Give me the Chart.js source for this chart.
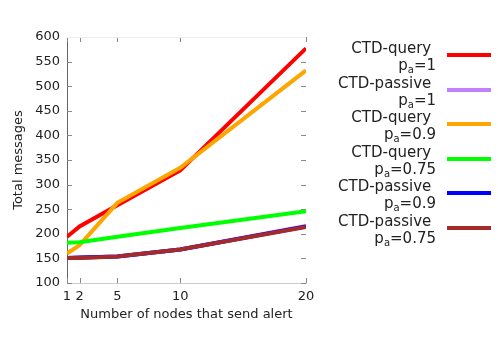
<!DOCTYPE html>
<html>
<head>
<meta charset="utf-8">
<script src="https://cdn.jsdelivr.net/npm/chart.js@4"></script>
<style>
  html, body { margin: 0; padding: 0; background: #fff; }
  #wrap { position: relative; width: 498px; height: 352px; }
  canvas { position: absolute; left: 0; top: 0; }
  .lg { position: absolute; right: 62px; text-align: right; font: 15px "DejaVu Sans", sans-serif; color: #222; line-height: 17px; white-space: nowrap; }
  .lg sub { font-size: 10px; vertical-align: -3px; line-height: 0; }
  .sw { position: absolute; left: 447px; width: 44px; height: 4px; }
</style>
</head>
<body>
<div id="wrap">
  <canvas id="c" width="498" height="352"></canvas>
  <div id="legend"></div>
</div>
<script>
// number of nodes that send an alert
const nodes = [1, 2, 5, 10, 20];
const xTicks = [1, 2, 5, 10, 20];
const yTicks = [100, 150, 200, 250, 300, 350, 400, 450, 500, 550, 600];

// total messages per series
const queryP1 = [194, 215, 258, 329, 577];
const passiveP1 = [151, 152, 154, 168, 216];
const queryP09 = [160, 177, 263, 334, 532];
const queryP075 = [182, 183, 194, 212, 246];
const passiveP09 = [151, 152, 154, 168, 215];
const passiveP075 = [151, 151, 154, 168, 214];

const series = [
    { name: 'CTD-query', pa: '1', data: queryP1, color: '#ff0000' },
    { name: 'CTD-passive', pa: '1', data: passiveP1, color: '#c080ff' },
    { name: 'CTD-query', pa: '0.9', data: queryP09, color: '#ffa500' },
    { name: 'CTD-query', pa: '0.75', data: queryP075, color: '#00ff00' },
    { name: 'CTD-passive', pa: '0.9', data: passiveP09, color: '#0000ff' },
    { name: 'CTD-passive', pa: '0.75', data: passiveP075, color: '#a52a2a' }
];

// legend as html text, right aligned like gnuplot
const legend = document.getElementById('legend');
series.forEach((s, i) => {
    const y = 55 + i * 34.5;
    const t = document.createElement('div');
    t.className = 'lg';
    t.style.top = (y - 15) + 'px';
    t.innerHTML = s.name + '&nbsp;<br>p<sub>a</sub>=' + s.pa;
    legend.appendChild(t);
    const sw = document.createElement('div');
    sw.className = 'sw';
    sw.style.top = (y - 2) + 'px';
    sw.style.background = s.color;
    legend.appendChild(sw);
});

// inward tick marks on all four sides
const tickMarks = {
    id: 'tickMarks',
    beforeDatasetsDraw(chart) {
        const { ctx, chartArea: a, scales: { x, y } } = chart;
        ctx.save();
        ctx.lineWidth = 1;
        ctx.strokeStyle = '#888';
        yTicks.forEach(v => {
            const py = Math.round(y.getPixelForValue(v)) + 0.5;
            ctx.beginPath();
            ctx.moveTo(a.left, py); ctx.lineTo(a.left + 5, py);
            ctx.moveTo(a.right, py); ctx.lineTo(a.right - 5, py);
            ctx.stroke();
        });
        xTicks.forEach(v => {
            const px = Math.round(x.getPixelForValue(v)) + 0.5;
            ctx.beginPath();
            ctx.moveTo(px, a.bottom); ctx.lineTo(px, a.bottom - 5);
            ctx.moveTo(px, a.top); ctx.lineTo(px, a.top + 5);
            ctx.stroke();
        });
        // faint top border
        ctx.strokeStyle = '#eee';
        ctx.beginPath();
        ctx.moveTo(a.left, a.top + 0.5); ctx.lineTo(a.right, a.top + 0.5);
        ctx.stroke();
        ctx.restore();
    }
};

const tickFont = { family: '"DejaVu Sans", sans-serif', size: 13 };

new Chart(document.getElementById('c'), {
    type: 'line',
    data: {
        labels: nodes,
        datasets: series.map((s, i) => ({
            label: s.name + ' pa=' + s.pa,
            data: s.data.map((v, j) => ({ x: nodes[j], y: v })),
            borderColor: s.color,
            backgroundColor: s.color,
            borderWidth: 4,
            pointRadius: 0,
            tension: 0,
            fill: false,
            order: series.length - i
        }))
    },
    options: {
        responsive: false,
        animation: false,
        layout: { padding: { left: 0, top: 37, right: 192, bottom: 0 } },
        plugins: { legend: { display: false }, tooltip: { enabled: false } },
        scales: {
            x: {
                type: 'linear',
                min: 1,
                max: 20,
                afterBuildTicks: scale => { scale.ticks = xTicks.map(v => ({ value: v })); },
                afterFit: scale => { scale.height = 69; },
                grid: { display: false, drawTicks: false },
                border: { display: true, color: '#ccc', width: 1 },
                ticks: { color: '#222', font: tickFont, padding: 6, maxRotation: 0, autoSkip: false },
                title: {
                    display: true,
                    text: 'Number of nodes that send alert',
                    color: '#222',
                    font: tickFont,
                    padding: { top: 0, bottom: 30 }
                }
            },
            y: {
                min: 100,
                max: 600,
                afterBuildTicks: scale => { scale.ticks = yTicks.map(v => ({ value: v })); },
                afterFit: scale => { scale.width = 67; },
                grid: { display: false, drawTicks: false },
                border: { display: true, color: '#666', width: 1 },
                ticks: { color: '#222', font: tickFont, padding: 7 },
                title: {
                    display: true,
                    text: 'Total messages',
                    color: '#222',
                    font: tickFont,
                    padding: { top: 11, bottom: 0 }
                }
            }
        }
    },
    plugins: [tickMarks]
});
</script>
</body>
</html>
